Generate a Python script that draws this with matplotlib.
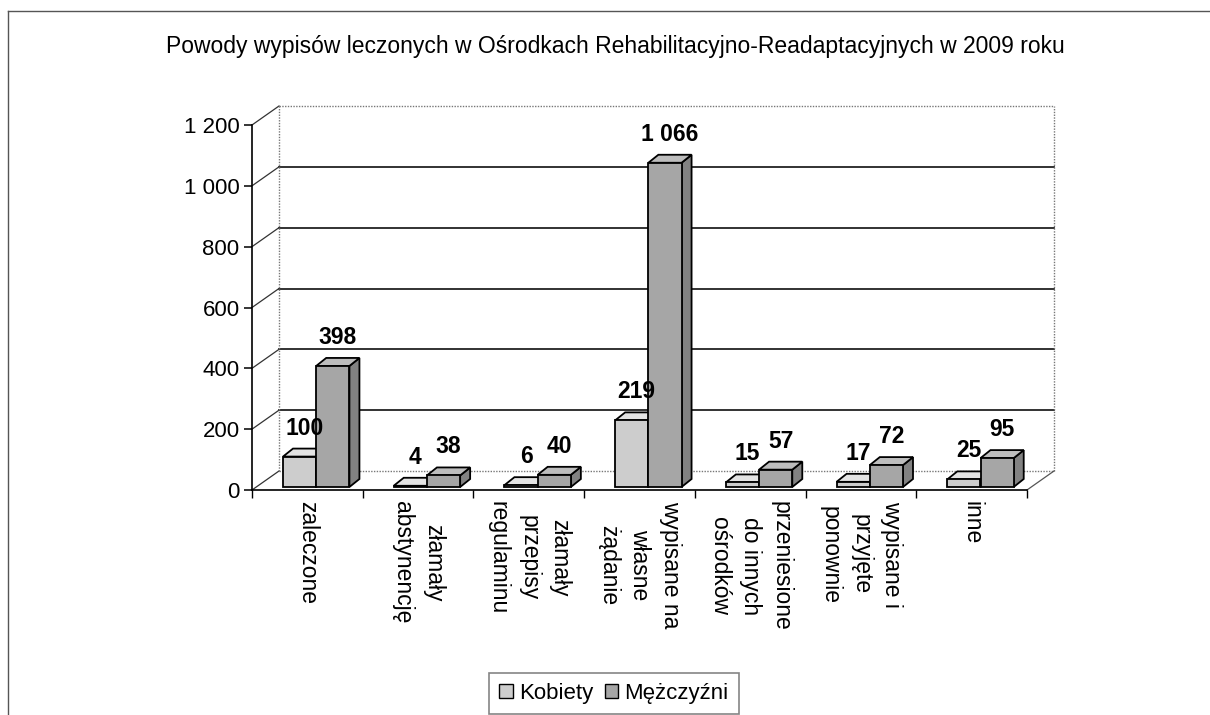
import numpy as np
import matplotlib.pyplot as plt
from matplotlib.patches import Polygon, Patch
from matplotlib.lines import Line2D
from matplotlib.ticker import FuncFormatter, FixedLocator

plt.rcParams['font.family'] = ['Liberation Sans', 'DejaVu Sans']

# --- data ---
categories = [
    "zaleczone",
    "złamały\nabstynencję",
    "złamały\nprzepisy\nregulaminu",
    "wypisane na\nwłasne\nżądanie",
    "przeniesione\ndo innych\nośrodków",
    "wypisane i\nprzyjęte\nponownie",
    "inne",
]
kobiety = [100, 4, 6, 219, 15, 17, 25]
mezczyzni = [398, 38, 40, 1066, 57, 72, 95]
series_names = ["Kobiety", "Mężczyźni"]
y_ticks = [0, 200, 400, 600, 800, 1000, 1200]

title = "Powody wypisów leczonych w Ośrodkach Rehabilitacyjno-Readaptacyjnych w 2009 roku"

# colours (front, top, side)
col_k = ("#cdcdcd", "#e4e4e4", "#a9a9a9")
col_m = ("#a6a6a6", "#bdbdbd", "#828282")


def thousands(v, pos=None):
    return f"{int(v):,}".replace(",", " ")


W, H = 1210, 715
fig = plt.figure(figsize=(W / 100, H / 100), dpi=100)
ax = fig.add_axes([252 / W, (H - 490) / H, 775 / W, 365 / H])
n = len(categories)
ax.set_xlim(0, n)
ax.set_ylim(0, 1200)

# pixel -> data unit helpers
p0 = ax.transData.transform((0, 0))
p1 = ax.transData.transform((1, 1))
ppx = p1[0] - p0[0]
ppy = p1[1] - p0[1]

# back wall offset (depth of the chart)
wdx, wdy = 27 / ppx, 19 / ppy
# bar depth
bdx, bdy = 10 / ppx, 8 / ppy
lift = 3 / ppy

# back wall gridlines
for v in y_ticks:
    if v in (0, 1200):
        ax.plot([wdx, n + wdx], [v + wdy, v + wdy], color="#777777", lw=1.0,
                ls=(0, (1, 1)), clip_on=False, zorder=1)
    else:
        ax.plot([wdx, n + wdx], [v + wdy, v + wdy], color="#222222", lw=1.3,
                clip_on=False, zorder=1)
    # left wall diagonal
    ax.plot([0, wdx], [v, v + wdy], color="#333333", lw=0.9, clip_on=False, zorder=1)

# back wall vertical edges
ax.plot([wdx, wdx], [wdy, 1200 + wdy], color="#777777", lw=1.0, ls=(0, (1, 1)),
        clip_on=False, zorder=1)
ax.plot([n + wdx, n + wdx], [wdy, 1200 + wdy], color="#777777", lw=1.0,
        ls=(0, (1, 1)), clip_on=False, zorder=1)
# floor right edge
ax.plot([n, n + wdx], [0, wdy], color="#555555", lw=0.9, clip_on=False, zorder=1)

# bars
bw = 0.3
offs = [0.28, 0.58]
for i in range(n):
    for s, (vals, cols) in enumerate([(kobiety, col_k), (mezczyzni, col_m)]):
        v = vals[i]
        x0 = i + offs[s]
        x1 = x0 + bw
        bot = lift
        top = lift + v
        z = 3 + i * 2 + s
        side = Polygon([(x1, bot), (x1 + bdx, bot + bdy), (x1 + bdx, top + bdy), (x1, top)],
                       closed=True, facecolor=cols[2], edgecolor="black", lw=1.3,
                       zorder=z, clip_on=False)
        topf = Polygon([(x0, top), (x1, top), (x1 + bdx, top + bdy), (x0 + bdx, top + bdy)],
                       closed=True, facecolor=cols[1], edgecolor="black", lw=1.3,
                       zorder=z, clip_on=False)
        ax.add_patch(side)
        ax.add_patch(topf)
        ax.bar(x0, v, width=bw, bottom=bot, align="edge", color=cols[0],
               edgecolor="black", lw=1.3, zorder=z, clip_on=False)
        ax.annotate(thousands(v), xy=(x0 + bw / 2, top), xytext=(3.6, 20.5),
                    textcoords="offset points", ha="center", va="center",
                    fontsize=16.5, fontweight="bold", zorder=30, annotation_clip=False)

# axes styling
for sp in ("top", "right"):
    ax.spines[sp].set_visible(False)
ax.spines["left"].set_linewidth(1.2)
ax.spines["bottom"].set_linewidth(1.2)
ax.set_yticks(y_ticks)
ax.yaxis.set_major_formatter(FuncFormatter(thousands))
ax.tick_params(axis="y", length=6, width=1.1, labelsize=16, pad=3)
ax.set_xticks(np.arange(n) + 0.5)
ax.set_xticklabels(categories, rotation=-90, ha="center", va="top",
                   multialignment="center", linespacing=1.45, fontsize=16.5)
ax.tick_params(axis="x", which="major", length=0, pad=8)
ax.xaxis.set_minor_locator(FixedLocator(np.arange(n + 1)))
ax.tick_params(axis="x", which="minor", length=6, width=1.0)
ax.patch.set_visible(False)

fig.text(615 / W, 1 - 47 / H, title, ha="center", va="center", fontsize=16.5)

handles = [Patch(facecolor=col_k[0], edgecolor="black", lw=1.0),
           Patch(facecolor=col_m[0], edgecolor="black", lw=1.0)]
leg = fig.legend(handles, series_names, loc="upper center",
                 bbox_to_anchor=(614 / W, 1 - 673 / H), ncol=2, fontsize=16,
                 frameon=True, fancybox=False, edgecolor="#666666",
                 handlelength=0.6, handleheight=0.6, handletextpad=0.3,
                 columnspacing=0.5, borderpad=0.45, borderaxespad=0)
leg.get_frame().set_linewidth(1.2)

# outer frame of the scanned chart (left and top only)
fig.add_artist(Line2D([8 / W, 8 / W], [0, 1 - 11 / H], transform=fig.transFigure,
                      color="#555555", lw=1.0))
fig.add_artist(Line2D([8 / W, 1], [1 - 11 / H, 1 - 11 / H], transform=fig.transFigure,
                      color="#555555", lw=1.0))

fig.savefig("out.png", dpi=100)
